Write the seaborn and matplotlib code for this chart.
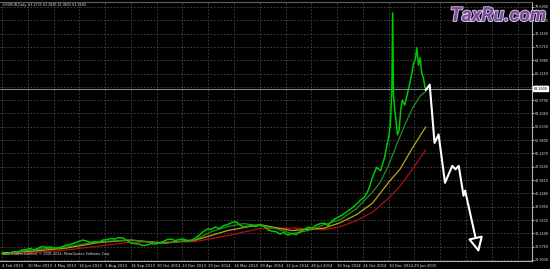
import matplotlib
matplotlib.use("Agg")
import matplotlib.pyplot as plt
import matplotlib.patheffects as pe
import seaborn as sns
import pandas as pd

# ---- data (bar index = trading day since 4 Feb 2013) ----
price_bar = [0, 5, 10, 15, 20, 25, 30, 35, 40, 45, 50, 55, 60, 65, 70, 75, 80, 85, 90, 95,
             100, 105, 110, 115, 120, 125, 130, 135, 140, 145, 150, 155, 160, 165, 170, 175,
             180, 185, 190, 195, 200, 205, 210, 215, 220, 225, 230, 235, 240, 245, 250, 255,
             260, 265, 270, 275, 280, 285, 290, 295, 300, 305, 310, 315, 320, 325, 330, 335,
             340, 345, 350, 355, 360, 365, 370, 375, 380, 385, 390, 395, 400, 405, 410, 415,
             420, 425, 430, 435, 440, 445, 450, 455, 460, 465, 470, 475, 478, 480, 482, 484,
             485, 486, 487, 489, 491, 493, 495, 497, 500, 503, 505, 507, 509, 511, 513, 515,
             517, 519, 521, 523, 526]
price_close = [30.2, 30.1, 30.3, 30.6, 30.5, 30.9, 31.0, 31.2, 30.9, 31.3, 31.6, 31.4, 31.5, 31.3,
               31.3, 31.6, 31.9, 32.0, 32.3, 32.6, 32.9, 32.7, 32.4, 32.6, 32.4, 32.9, 33.0, 33.2,
               33.1, 33.4, 33.3, 32.8, 32.3, 32.2, 32.1, 31.8, 31.9, 32.2, 32.1, 32.3, 32.6, 33.0,
               33.1, 32.8, 33.0, 33.1, 32.8, 32.8, 33.3, 33.9, 34.6, 35.1, 35.1, 35.5, 35.2, 35.8,
               36.0, 36.4, 36.6, 36.0, 35.5, 35.7, 35.8, 35.6, 36.0, 35.7, 35.0, 34.7, 34.6, 34.1,
               34.4, 33.9, 34.2, 34.0, 34.5, 35.0, 35.5, 35.3, 35.9, 36.2, 36.3, 35.8, 36.8, 37.3,
               37.7, 38.2, 38.8, 39.4, 40.1, 40.9, 41.5, 43.0, 45.5, 47.5, 46.8, 49.5, 52.0, 53.5,
               56.0, 63.0, 78.5, 62.0, 60.0, 57.0, 54.0, 55.0, 59.0, 61.0, 60.0, 62.0, 63.5, 65.0,
               66.5, 68.5, 69.0, 71.5, 68.0, 69.5, 66.5, 65.5, 63.0]

fast_bar = [0, 40, 80, 120, 160, 200, 240, 260, 280, 300, 320, 340, 360, 380, 400, 420, 440,
            460, 470, 480, 490, 500, 510, 520, 526]
fast_ma = [30.1, 31.0, 31.5, 32.6, 32.9, 32.2, 33.0, 34.6, 35.6, 36.2, 35.8, 35.2, 34.2, 34.8,
           36.0, 37.0, 39.2, 42.5, 44.6, 48.0, 52.0, 56.0, 59.5, 62.0, 62.7]

mid_bar = [0, 40, 80, 120, 160, 200, 240, 280, 320, 360, 400, 420, 440, 460, 480, 494, 510, 526]
mid_ma = [30.3, 30.7, 31.3, 32.4, 32.9, 32.3, 32.9, 34.8, 36.0, 34.8, 35.3, 36.4, 38.0, 40.3,
          44.5, 47.1, 51.5, 55.6]

slow_bar = [0, 40, 80, 120, 160, 200, 240, 280, 320, 360, 400, 420, 440, 460, 480, 494, 510, 526]
slow_ma = [30.0, 30.4, 30.9, 31.7, 32.5, 32.5, 32.6, 33.8, 35.2, 35.3, 35.0, 35.6, 36.8, 38.5,
           41.3, 43.7, 47.2, 51.0]

forecast_bar = [526, 531, 537, 542, 550, 559, 563, 567, 573, 575, 592]
forecast_val = [63.0, 64.1, 52.4, 54.1, 44.4, 47.8, 47.1, 47.8, 41.8, 42.8, 30.4]

date_tick_bars = [0, 32, 64, 96, 128, 160, 192, 224, 256, 288, 320, 352, 384, 416, 448, 480, 512]
date_tick_labels = ["4 Feb 2013", "20 Mar 2013", "3 May 2013", "18 Jun 2013", "1 Aug 2013",
                    "16 Sep 2013", "30 Oct 2013", "13 Dec 2013", "29 Jan 2014", "14 Mar 2014",
                    "29 Apr 2014", "12 Jun 2014", "28 Jul 2014", "10 Sep 2014", "24 Oct 2014",
                    "10 Dec 2014", "29 Jan 2015"]
price_ticks = [28.9030, 31.5760, 34.2490, 36.9220, 39.5950, 42.2680, 44.9410, 47.6140,
               50.2870, 52.9600, 55.6330, 58.3060, 60.9790, 63.6520, 66.3250, 68.9980,
               71.6710, 74.3440, 77.0170, 79.6900]
current_price = 63.26
header_text = "USDRUB,Daily  63.1735 63.2845 61.9655 63.2600"
copyright_text = "Alfa Traders Limited, \u00a9 2001-2014, MetaQuotes Software Corp."
watermark = "TaxRu.com"

# ---- figure ----
sns.set_style("dark")
plt.rcParams["font.family"] = ["DejaVu Sans"]
fig = plt.figure(figsize=(5.5, 2.69), dpi=100, facecolor="black")
ax = fig.add_axes([0.0, 8.5 / 269, 532 / 550, 258.5 / 269])
ax.set_facecolor("black")

ax.set_xlim(-2.5, 658)
ax.set_ylim(28.80, 80.68)

grid_kw = dict(color="#4a4a4a", lw=0.6, ls=(0, (2, 2)), zorder=0)
for v in price_ticks:
    ax.axhline(v, **grid_kw)
for b in date_tick_bars + [544, 576, 608, 640]:
    ax.axvline(b, **grid_kw)

ax.axhline(current_price, color="#8090a0", lw=0.7, zorder=1)

df_price = pd.DataFrame({"bar": price_bar, "v": price_close})
df_fast = pd.DataFrame({"bar": fast_bar, "v": fast_ma})
df_mid = pd.DataFrame({"bar": mid_bar, "v": mid_ma})
df_slow = pd.DataFrame({"bar": slow_bar, "v": slow_ma})
df_fc = pd.DataFrame({"bar": forecast_bar, "v": forecast_val})

sns.lineplot(data=df_slow, x="bar", y="v", ax=ax, color="#b01010", lw=0.9, zorder=2)
sns.lineplot(data=df_mid, x="bar", y="v", ax=ax, color="#b8a818", lw=0.9, zorder=2)
sns.lineplot(data=df_fast, x="bar", y="v", ax=ax, color="#2a8a2a", lw=0.9, zorder=3)
sns.lineplot(data=df_price, x="bar", y="v", ax=ax, color="#00c800", lw=1.1, zorder=4)
sns.lineplot(data=df_fc.iloc[:-1], x="bar", y="v", ax=ax, color="white", lw=1.5, zorder=5)
ax.annotate("", xy=(forecast_bar[-1], forecast_val[-1]),
            xytext=(forecast_bar[-2], forecast_val[-2]),
            arrowprops=dict(arrowstyle="-|>,head_length=0.9,head_width=0.45",
                            color="white", lw=1.5, fc="black", ec="white",
                            shrinkA=0, shrinkB=0), zorder=6)

# axes styling
ax.spines["left"].set_visible(False)
for s in ["right", "bottom"]:
    ax.spines[s].set_color("#b0b0b0")
    ax.spines[s].set_linewidth(0.8)
ax.spines["top"].set_color("#606060")
ax.set_xlabel("")
ax.set_ylabel("")

ax.set_xticks(date_tick_bars)
ax.set_xticklabels(date_tick_labels, fontsize=2.7, color="#e0e0e0", ha="left")
ax.tick_params(axis="x", length=1.5, color="#b0b0b0", pad=1.0, direction="out")
ax.yaxis.tick_right()
ax.set_yticks(price_ticks)
ax.set_yticklabels([f"{v:.4f}" for v in price_ticks], fontsize=2.4, color="#e0e0e0")
ax.tick_params(axis="y", length=1.2, color="#b0b0b0", pad=1.0, direction="out")

# current price label
ax.text(1.003, current_price, f"{current_price:.4f}", transform=ax.get_yaxis_transform(),
        fontsize=2.4, color="black", va="center", ha="left",
        bbox=dict(boxstyle="square,pad=0.2", fc="white", ec="white"), clip_on=False)

fig.text(3 / 550, 1 - 5 / 269, header_text, fontsize=2.3, color="#e0e0e0", va="center")
ax.text(1, 30.1, copyright_text, fontsize=2.4, color="#e0e0e0", va="center")

fig.text(450 / 550, 1 - 16 / 269, watermark, fontsize=14, color="#7a4c9c", va="center",
         ha="left", style="italic", fontweight="bold",
         family=["Liberation Sans Narrow", "Roboto", "DejaVu Sans"],
         path_effects=[pe.withStroke(linewidth=1.3, foreground="#d8c8e8")], zorder=10)

fig.savefig("out.png", dpi=100, facecolor="black")
